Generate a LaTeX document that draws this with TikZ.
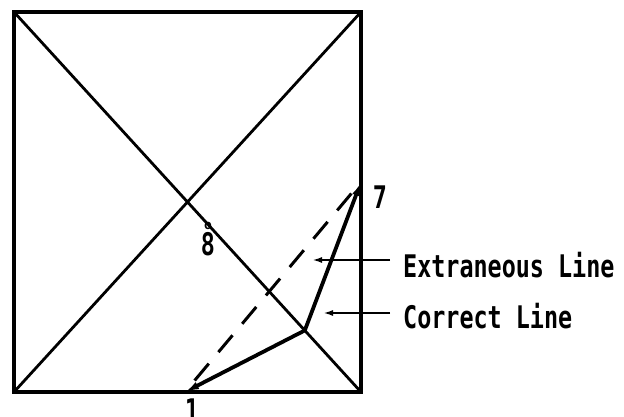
\documentclass[tikz,border=0pt]{standalone}
\usepackage{fontspec}
\newfontfamily\gothic{DejaVu Sans Mono}
\usetikzlibrary{calc,arrows.meta}

\tikzset{
  lbl/.style={inner sep=0pt,font=\gothic\bfseries\fontsize{23.4}{28}\selectfont},
  leader/.style={line width=2pt,-{Latex[length=10pt,width=6pt]}},
  correct/.style={line width=3.8pt,line join=round,{Latex[length=14pt,width=8pt]}-{Latex[length=14pt,width=8pt]}},
  extra/.style={line width=3pt,dash pattern=on 22pt off 15pt,dash phase=22pt},
}
\newcommand{\tall}[1]{\scalebox{1}[1.33]{#1}}

\begin{document}
\begin{tikzpicture}[x=1pt,y=-1pt]
  \useasboundingbox (0,0) rectangle (624,417);
  \coordinate (A) at (14,392); \coordinate (B) at (361,392); \coordinate (C) at (361,12); \coordinate (D) at (14,12);
  \coordinate (P1) at (185,392); \coordinate (P7) at (361,182); \coordinate (V) at ($(D)!0.838!(B)$);
  \draw[line width=3.2pt,line join=miter] (A)--(B)--(C)--(D)--cycle;
  \draw[line width=2.8pt] (A)--(C) (B)--(D);
  \draw[extra] (P1)--(P7);
  \draw[correct] (P1)--(V)--(P7);
  \foreach \n/\x/\y/\t in {n7/380/197/7,n1/192/410/1,n8/208/244/8}\node[lbl] (\n) at (\x,\y) {\tall{\t}};
  \node[lbl,font=\gothic\bfseries\fontsize{13}{15}\selectfont] (n8top) at (208,226) {o};
  \node[lbl,anchor=west] (ext) at (403,265) {\tall{Extraneous Line}};
  \node[lbl,anchor=west] (cor) at (403,316) {\tall{Correct Line}};
  \coordinate (extTip) at (312,260); \coordinate (corTip) at (323,313);
  \path (ext.west) ++(-13,0) coordinate (extTail); \path (cor.west) ++(-13,0) coordinate (corTail);
  \draw[leader] (extTail |- extTip)--(extTip);
  \draw[leader] (corTail |- corTip)--(corTip);
\end{tikzpicture}
\end{document}
